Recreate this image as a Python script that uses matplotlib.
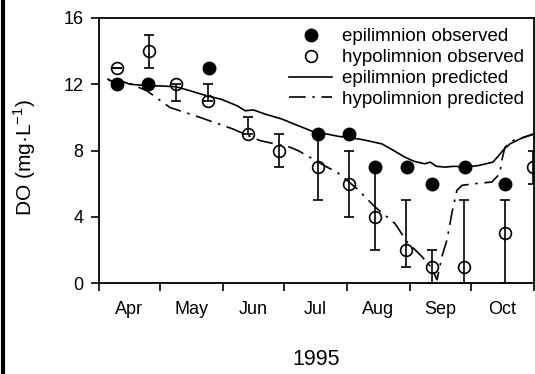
import matplotlib
matplotlib.use('Agg')
import matplotlib.pyplot as plt
from matplotlib.lines import Line2D

plt.rcParams['font.family'] = ['Liberation Sans', 'DejaVu Sans']
plt.rcParams['mathtext.fontset'] = 'custom'
plt.rcParams['mathtext.rm'] = 'Liberation Sans'

# x = days since 1 Apr 1995
month_starts = [0, 30, 61, 91, 122, 153, 183, 214]
month_labels = ['Apr', 'May', 'Jun', 'Jul', 'Aug', 'Sep', 'Oct']

epi_day = [9, 24, 54, 108, 123, 136, 151.5, 164, 180, 200]
epi_obs = [12, 12, 13, 9, 9, 7, 7, 6, 7, 6]

hyp_day = [9, 24.5, 38, 53.6, 73.3, 88.5, 108, 123, 136, 151, 164, 179.5, 200, 213.5]
hyp_obs = [13, 14, 12, 11, 9, 8, 7, 6, 4, 2, 1, 1, 3, 7]
hyp_lo = [0, 1, 1, 0, 0, 1, 2, 2, 2, 1, 1, 1, 3, 1]
hyp_hi = [0, 1, 0, 1, 1, 1, 2, 2, 3, 3, 1, 4, 2, 1]

epi_pred_day = [4.4, 9.3, 12, 15.2, 20, 24.1, 30, 37.9, 45, 53.1, 60, 68, 72, 76, 81.7,
                90, 98, 106.2, 112, 118, 122.5, 130, 139.2, 145, 150.5, 155, 160.3, 163,
                166, 170.2, 175, 180, 187, 193.8, 196, 198.7, 202.2, 207.1, 214]
epi_pred = [12.3, 12.0, 12.15, 12.0, 11.95, 11.9, 11.9, 11.85, 11.6, 11.3, 11.1, 10.7, 10.4,
            10.45, 10.2, 9.9, 9.5, 9.1, 9.0, 8.85, 8.8, 8.65, 8.4, 8.0, 7.6, 7.35, 7.2, 7.3,
            7.05, 7.0, 7.05, 7.0, 7.1, 7.3, 7.6, 8.0, 8.4, 8.7, 9.0]

hyp_pred_day = [4.4, 9.3, 15.2, 23.6, 34.9, 49.7, 65.9, 79.2, 94.0, 97.9, 112.2, 117.1,
                126.9, 135.8, 145.6, 151.5, 158.9, 163.8, 166.3, 168.7, 171.2, 173.6,
                176.1, 178.6, 184.9, 193.3, 197.2, 198.2, 199.7, 203.6, 214]
hyp_pred = [12.3, 12.0, 12.05, 11.6, 10.6, 10.0, 9.3, 8.6, 8.2, 8.0, 7.0, 6.7, 5.7, 4.6,
            3.6, 2.5, 1.6, 0.9, 0.2, 1.6, 2.6, 4.2, 5.6, 5.9, 6.0, 6.1, 6.6, 7.4, 8.2, 8.6, 9.0]

fig = plt.figure(figsize=(5.35, 3.74), dpi=100)
ax = fig.add_axes([0.185, 0.243, 0.813, 0.709])

ax.errorbar(hyp_day, hyp_obs, yerr=[hyp_lo, hyp_hi], fmt='none', ecolor='black',
            elinewidth=1.2, capsize=3.5, capthick=1.2)
ax.plot(epi_pred_day, epi_pred, color='black', lw=1.2, label='epilimnion predicted')
ax.plot(hyp_pred_day, hyp_pred, color='black', lw=1.2, dashes=(10, 4, 1.5, 4),
        label='hypolimnion predicted')
ax.plot(epi_day, epi_obs, 'o', color='black', ms=9, label='epilimnion observed')
ax.plot(hyp_day, hyp_obs, 'o', mfc='none', mec='black', mew=1.2, ms=8.5,
        label='hypolimnion observed')

ax.set_xlim(0, 214)
ax.set_ylim(0, 16)
ax.set_yticks([0, 4, 8, 12, 16])
ax.set_xticks(month_starts)
ax.set_xticklabels([])
mids = [(month_starts[i] + month_starts[i + 1]) / 2 for i in range(len(month_labels))]
ax.set_xticks(mids, minor=True)
ax.set_xticklabels(month_labels, minor=True)
ax.tick_params(axis='both', which='major', direction='out', length=6, width=1.2, labelsize=13)
ax.tick_params(axis='x', which='minor', length=0, labelsize=13, pad=13)
ax.tick_params(axis='y', pad=5)
for s in ax.spines.values():
    s.set_linewidth(1.3)

ax.set_ylabel('DO (mg·L$^{-1}$)', fontsize=15)
ax.yaxis.set_label_coords(-0.14, 0.475)
ax.set_xlabel('1995', fontsize=15.5)
ax.xaxis.set_label_coords(0.5, -0.25)

h, l = ax.get_legend_handles_labels()
order = [2, 3, 0, 1]
ax.legend([h[i] for i in order], [l[i] for i in order], loc='upper right',
          bbox_to_anchor=(1.0, 1.0), frameon=False, fontsize=13.5, handlelength=2.3,
          handletextpad=0.5, labelspacing=0.2, borderaxespad=0.15)

fig.add_artist(Line2D([0.006, 0.006], [0, 1], color='black', lw=3, transform=fig.transFigure))

fig.savefig('out.png', dpi=100)
